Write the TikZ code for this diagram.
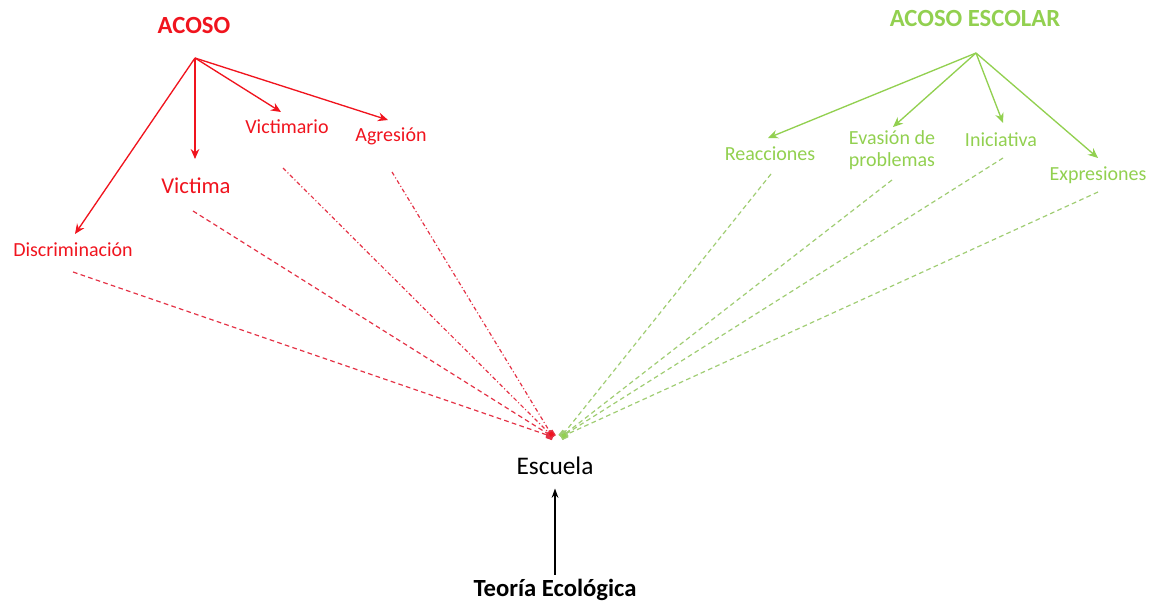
\documentclass[tikz,border=0pt]{standalone}
\usepackage{fontspec}
\setmainfont{Carlito}
\usetikzlibrary{arrows.meta}
\definecolor{myred}{RGB}{240,20,30}
\definecolor{mygreen}{RGB}{146,208,80}
\definecolor{dred}{RGB}{228,50,70}
\definecolor{dgreen}{RGB}{160,205,115}
\tikzset{
  lbl/.style={inner sep=1pt, font=\fontsize{15}{17}\selectfont},
  ttl/.style={inner sep=1pt, font=\fontsize{18.5}{21}\selectfont\bfseries},
  redarr/.style={draw=myred, line width=1pt, -{Stealth[length=7.5pt,width=6.5pt]}},
  grnarr/.style={draw=mygreen, line width=1pt, -{Stealth[length=7.5pt,width=6.5pt]}},
  reddash/.style={draw=dred, line width=0.9pt, dash pattern=on 3.5pt off 2.5pt, -{Square[length=5pt,width=5pt,fill=myred]}},
  reddashdot/.style={draw=dred, line width=0.9pt, dash pattern=on 3pt off 1.8pt on 0.8pt off 1.8pt, -{Square[length=5pt,width=5pt,fill=myred]}},
  grndash/.style={draw=dgreen, line width=0.9pt, dash pattern=on 3.5pt off 2.5pt, -{Square[length=5pt,width=5pt,fill=mygreen]}},
}
\begin{document}
\begin{tikzpicture}[x=0.75pt, y=-0.75pt]
\useasboundingbox (0,0) rectangle (1153,604);
% red tree
\node[ttl, text=myred] (acoso) at (194,25) {ACOSO};
\coordinate (redhub) at (195,58);
\node[lbl, text=myred] (disc) at (73,250) {Discriminación};
\node[lbl, text=myred, font=\fontsize{17}{19}\selectfont] (vict) at (196,186) {Victima};
\node[lbl, text=myred] (victm) at (287,127) {Victimario};
\node[lbl, text=myred] (agr) at (391,136) {Agresión};
\coordinate (tDisc) at (75,234);
\coordinate (tVict) at (195,159);
\coordinate (tVictm) at (281,112);
\coordinate (tAgr) at (388,120);
\draw[redarr] (redhub) -- (tDisc);
\draw[redarr] (redhub) -- (tVict);
\draw[redarr] (redhub) -- (tVictm);
\draw[redarr] (redhub) -- (tAgr);
% green tree
\node[ttl, text=mygreen] (escolar) at (975,18) {ACOSO ESCOLAR};
\coordinate (grnhub) at (976,53);
\node[lbl, text=mygreen] (reac) at (770,154) {Reacciones};
\node[lbl, text=mygreen, align=center, font=\fontsize{15}{16.5}\selectfont] (evas) at (892,150) {Evasión de\\problemas};
\node[lbl, text=mygreen] (inic) at (1001,140) {Iniciativa};
\node[lbl, text=mygreen] (expr) at (1098,175) {Expresiones};
\coordinate (tReac) at (768,138);
\coordinate (tEvas) at (893,127);
\coordinate (tInic) at (1003,123);
\coordinate (tExpr) at (1098,158);
\draw[grnarr] (grnhub) -- (tReac);
\draw[grnarr] (grnhub) -- (tEvas);
\draw[grnarr] (grnhub) -- (tInic);
\draw[grnarr] (grnhub) -- (tExpr);
% center
\coordinate (sinkR) at (553,437);
\coordinate (sinkG) at (561,437);
\node[inner sep=1pt, font=\fontsize{19}{21}\selectfont] (esc) at (555,466) {Escuela};
\node[inner sep=1pt, font=\fontsize{18.5}{21}\selectfont\bfseries] (teo) at (555,590) {Teoría Ecológica};
\coordinate (sDisc) at (73,272);
\coordinate (sVict) at (193,211);
\coordinate (sVictm) at (283,168);
\coordinate (sAgr) at (392,172);
\draw[reddash] (sDisc) -- (sinkR);
\draw[reddash] (sVict) -- (sinkR);
\draw[reddashdot] (sVictm) -- (sinkR);
\draw[reddashdot] (sAgr) -- (sinkR);
\coordinate (sReac) at (771,174);
\coordinate (sEvas) at (892,180);
\coordinate (sInic) at (1003,158);
\coordinate (sExpr) at (1098,192);
\draw[grndash] (sReac) -- (sinkG);
\draw[grndash] (sEvas) -- (sinkG);
\draw[grndash] (sInic) -- (sinkG);
\draw[grndash] (sExpr) -- (sinkG);
\draw[line width=1pt, -{Stealth[length=7pt,width=5pt]}, shorten <=2pt, shorten >=9pt] (teo.north) -- (esc.south);
\end{tikzpicture}
\end{document}
